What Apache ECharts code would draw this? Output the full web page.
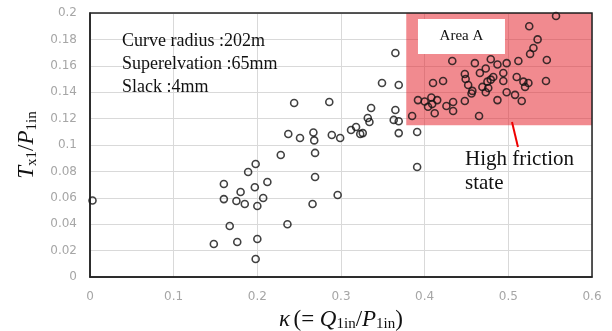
<!DOCTYPE html>
<html>
<head>
<meta charset="utf-8">
<script src="https://cdn.jsdelivr.net/npm/echarts@6/dist/echarts.min.js"></script>
<style>
  html, body { margin: 0; padding: 0; background: #fff; }
  #chart { width: 612px; height: 331px; }
</style>
</head>
<body>
<div id="chart"></div>
<script>
// measured points, kappa = Q1in/P1in, ratio = Tx1/P1in
const kappa = [
  0.003, 0.148, 0.176, 0.200, 0.198, 0.167, 0.236, 0.160, 0.160, 0.175,
  0.185, 0.180, 0.197, 0.212, 0.207, 0.200, 0.189, 0.198, 0.228, 0.269,
  0.269, 0.266, 0.296, 0.237, 0.251, 0.267, 0.268, 0.289, 0.299, 0.312,
  0.318, 0.323, 0.326, 0.244, 0.286, 0.336, 0.332, 0.334, 0.365, 0.363,
  0.369, 0.369, 0.349, 0.369, 0.365, 0.391, 0.391,
  // high friction cluster
  0.385, 0.392, 0.400, 0.408, 0.415, 0.409, 0.404, 0.412, 0.426, 0.434,
  0.434, 0.448, 0.410, 0.422, 0.433, 0.460, 0.466, 0.473, 0.479, 0.487,
  0.498, 0.512, 0.525, 0.557, 0.535, 0.530, 0.526, 0.546, 0.545, 0.524,
  0.518, 0.510, 0.494, 0.494, 0.482, 0.475, 0.476, 0.469, 0.448, 0.449,
  0.452, 0.457, 0.487, 0.498, 0.508, 0.516, 0.520, 0.465, 0.473, 0.456,
  0.479
];
const ratio = [
  0.058, 0.025, 0.0265, 0.0288, 0.0136, 0.0386, 0.040, 0.0705, 0.059, 0.0576,
  0.0553, 0.0644, 0.068, 0.072, 0.0598, 0.0538, 0.0795, 0.0856, 0.0924, 0.094,
  0.0758, 0.0553, 0.0621, 0.1083, 0.1053, 0.1095, 0.1035, 0.1076, 0.1053, 0.1114,
  0.1136, 0.1083, 0.109, 0.1318, 0.1326, 0.128, 0.1205, 0.1174, 0.1265, 0.119,
  0.118, 0.109, 0.147, 0.1455, 0.1697, 0.0833, 0.1098,
  0.122, 0.134, 0.133, 0.136, 0.134, 0.131, 0.129, 0.124, 0.1295, 0.1326,
  0.1258, 0.1333, 0.147, 0.1485, 0.1636, 0.162, 0.1545, 0.158, 0.165, 0.161,
  0.162, 0.1636, 0.190, 0.1977, 0.180, 0.1735, 0.169, 0.1644, 0.1485, 0.147,
  0.148, 0.1515, 0.1545, 0.1485, 0.1515, 0.148, 0.1432, 0.144, 0.1538, 0.150,
  0.1455, 0.141, 0.134, 0.140, 0.138, 0.1333, 0.144, 0.122, 0.140, 0.139,
  0.1495
];
const xTicks = [0, 0.6, 0.1];
const yTicks = [0, 0.2, 0.02];

const points = kappa.map((k, i) => [k, ratio[i]]);

const serif = "'Liberation Serif', 'DejaVu Serif', serif";
const chart = echarts.init(document.getElementById("chart"));

chart.setOption({
  animation: false,
  grid: { left: 90, right: 20, top: 13, bottom: 54, outerBoundsMode: "none" },
  xAxis: {
    type: "value",
    min: xTicks[0], max: xTicks[1], interval: xTicks[2],
    axisLine: { show: true, onZero: false, lineStyle: { color: "#222", width: 1.5 } },
    axisTick: { show: false },
    splitLine: { lineStyle: { color: "#d9d9d9" } },
    axisLabel: { color: "#a6a6a6", fontSize: 12, fontFamily: "DejaVu Sans", margin: 14 },
    name: "{i|κ} {n|(= }{i|Q}{s|1in}{n|/}{i|P}{s|1in}{n|)}",
    nameLocation: "middle",
    nameGap: 30,
    nameTextStyle: {
      rich: {
        i: { fontFamily: serif, fontStyle: "italic", fontSize: 23, color: "#111" },
        n: { fontFamily: serif, fontSize: 23, color: "#111" },
        s: { fontFamily: serif, fontSize: 15, color: "#111", verticalAlign: "bottom", padding: [10, 0, 0, 0] }
      }
    }
  },
  yAxis: {
    type: "value",
    min: yTicks[0], max: yTicks[1], interval: yTicks[2],
    axisLine: { show: true, lineStyle: { color: "#222", width: 1.5 } },
    axisTick: { show: false },
    splitLine: { lineStyle: { color: "#d9d9d9" } },
    axisLabel: { color: "#a6a6a6", fontSize: 12, fontFamily: "DejaVu Sans", margin: 13 },
    name: "{i|T}{s|x1}{n|/}{i|P}{s|1in}",
    nameLocation: "middle",
    nameRotate: 90,
    nameGap: 45,
    nameTextStyle: {
      rich: {
        i: { fontFamily: serif, fontStyle: "italic", fontSize: 23, color: "#111" },
        n: { fontFamily: serif, fontSize: 23, color: "#111" },
        s: { fontFamily: serif, fontSize: 15, color: "#111", verticalAlign: "bottom", padding: [10, 0, 0, 0] }
      }
    }
  },
  graphic: [
    {
      type: "rect", z: 100, silent: true,
      shape: { x: 90, y: 13, width: 502, height: 264 },
      style: { fill: "none", stroke: "#222", lineWidth: 1.5 }
    },
    {
      type: "text", z: 100, left: 122, top: 30,
      style: {
        text: "Curve radius :202m\nSuperelvation :65mm\nSlack :4mm",
        font: "18px " + serif, lineHeight: 23, fill: "#111"
      }
    },
    {
      type: "text", z: 100, left: 465, top: 147,
      style: {
        text: "High friction\nstate",
        font: "21px " + serif, lineHeight: 24, fill: "#111"
      }
    }
  ],
  series: [
    {
      type: "scatter",
      z: 2,
      data: points,
      symbol: "circle",
      symbolSize: 7,
      itemStyle: { color: "rgba(0,0,0,0)", borderColor: "#111", borderWidth: 1.6 }
    },
    {
      type: "line",
      z: 3,
      data: [],
      markArea: {
        silent: true,
        itemStyle: { color: "rgba(228,30,40,0.52)" },
        data: [[{ coord: [0.378, 0.2] }, { coord: [0.6, 0.115] }]]
      }
    },
    {
      type: "line",
      z: 4,
      data: [],
      markArea: {
        silent: true,
        itemStyle: { color: "#fff" },
        label: { show: true, position: "inside", fontFamily: serif, fontSize: 15, color: "#111" },
        data: [[{ name: "Area A", coord: [0.392, 0.1955] }, { coord: [0.496, 0.169] }]]
      },
      markLine: {
        silent: true,
        symbol: "none",
        label: { show: false },
        lineStyle: { color: "#e00", width: 2, type: "solid" },
        data: [[{ coord: [0.5044, 0.1174] }, { coord: [0.5115, 0.0985] }]]
      }
    }
  ]
});
</script>
</body>
</html>
